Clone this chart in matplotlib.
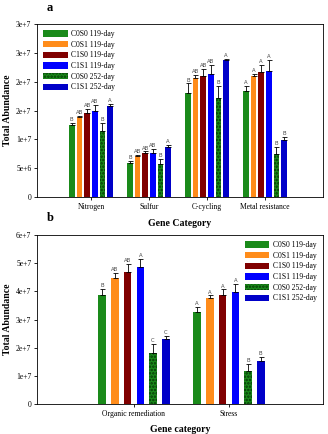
import numpy as np
import matplotlib
matplotlib.use("Agg")
import matplotlib.pyplot as plt

plt.rcParams['font.family'] = ['Liberation Serif', 'DejaVu Serif']
plt.rcParams['hatch.linewidth'] = 1.2

# series names and colours
series = ['C0S0 119-day', 'C0S1 119-day', 'C1S0 119-day', 'C1S1 119-day', 'C0S0 252-day', 'C1S1 252-day']
colors = ['#1a8a1a', '#ff8c1a', '#800000', '#0000ff', '#1a8a1a', '#0000c8']

# panel a data
cats_a = ['Nitrogen', 'Sulfur', 'C-cycling', 'Metal resistance']
vals_a = [
    [1.24e7, 5.95e6, 1.80e7, 1.83e7],
    [1.38e7, 7.1e6, 2.06e7, 2.10e7],
    [1.45e7, 7.6e6, 2.10e7, 2.16e7],
    [1.49e7, 7.7e6, 2.14e7, 2.19e7],
    [1.15e7, 5.7e6, 1.72e7, 7.4e6],
    [1.58e7, 8.6e6, 2.37e7, 9.8e6],
]
err_a = [
    [0.04e7, 0.3e6, 0.17e7, 0.10e7],
    [0.03e7, 0.2e6, 0.06e7, 0.04e7],
    [0.07e7, 0.3e6, 0.12e7, 0.13e7],
    [0.11e7, 0.6e6, 0.15e7, 0.19e7],
    [0.14e7, 0.9e6, 0.20e7, 1.3e6],
    [0.03e7, 0.4e6, 0.03e7, 0.6e6],
]
letters_a = [
    ['B', 'B', 'B', 'A'],
    ['AB', 'AB', 'AB', 'A'],
    ['AB', 'AB', 'AB', 'A'],
    ['AB', 'AB', 'AB', 'A'],
    ['B', 'B', 'B', 'B'],
    ['A', 'A', 'A', 'B'],
]
yticks_a = [0, 5e6, 1e7, 1.5e7, 2e7, 2.5e7, 3e7]
yticklabels_a = ['0', '5e+6', '1e+7', '2e+7', '2e+7', '3e+7', '3e+7']

# panel b data
cats_b = ['Organic remediation', 'Stress']
vals_b = [
    [3.88e7, 3.26e7],
    [4.47e7, 3.78e7],
    [4.70e7, 3.86e7],
    [4.88e7, 3.99e7],
    [1.83e7, 1.19e7],
    [2.30e7, 1.55e7],
]
err_b = [
    [0.21e7, 0.18e7],
    [0.18e7, 0.08e7],
    [0.26e7, 0.21e7],
    [0.27e7, 0.27e7],
    [0.30e7, 0.25e7],
    [0.12e7, 0.14e7],
]
letters_b = [
    ['B', 'A'],
    ['AB', 'A'],
    ['AB', 'A'],
    ['A', 'A'],
    ['C', 'B'],
    ['C', 'B'],
]
yticks_b = [0, 1e7, 2e7, 3e7, 4e7, 5e7, 6e7]
yticklabels_b = ['0', '1e+7', '2e+7', '3e+7', '4e+7', '5e+7', '6e+7']

W, H = 328, 434
fig = plt.figure(figsize=(W / 100, H / 100), dpi=100)


def panel(ax, cats, vals, errs, letters, pitch, width, yticks, yticklabels, ymax, lab_off):
    x = np.arange(len(cats))
    for i in range(len(series)):
        pos = x + (i - 2.5) * pitch
        hatched = (i == 4)
        ax.bar(pos, vals[i], width, color=colors[i],
               edgecolor='#063806' if hatched else colors[i],
               hatch='.....' if hatched else None, linewidth=0,
               label=series[i], zorder=2)
        ax.errorbar(pos, vals[i], yerr=[np.zeros(len(cats)), errs[i]], fmt='none',
                    ecolor='black', elinewidth=0.6, capsize=1.8, capthick=0.6, zorder=3)
        for xx, v, e, t in zip(pos, vals[i], errs[i], letters[i]):
            ax.text(xx, v + e + lab_off, t, ha='center', va='bottom', fontsize=3.8,
                    color='#444444', family='DejaVu Sans')
    ax.set_ylim(0, ymax)
    ax.set_yticks(yticks)
    ax.set_yticklabels(yticklabels, fontsize=5.5)
    ax.set_xticks(x)
    ax.set_xticklabels(cats, fontsize=5.5)
    ax.tick_params(axis='both', length=2, width=0.6, pad=2)
    for s in ax.spines.values():
        s.set_linewidth(0.6)
    ax.set_ylabel('Total Abundance', fontsize=7, fontweight='bold', labelpad=3)


ax1 = fig.add_axes([37 / W, 1 - 197 / H, 286 / W, 173 / H])
panel(ax1, cats_a, vals_a, err_a, letters_a, 0.132, 0.094, yticks_a, yticklabels_a, 3e7, 1.5e5)
ax1.set_xlim(-0.93, 4.0)
ax1.legend(loc='upper left', fontsize=5.5, frameon=False, handlelength=3.2, handleheight=0.9,
           labelspacing=0.35, borderaxespad=0.4, handletextpad=0.5)
ax1.set_xlabel('Gene Category', fontsize=7, fontweight='bold', labelpad=6)
fig.text(50 / W, 1 - 8 / H, 'a', fontsize=9, fontweight='bold', ha='center', va='center')

ax2 = fig.add_axes([37 / W, 1 - 404.3 / H, 286 / W, 169.3 / H])
panel(ax2, cats_b, vals_b, err_b, letters_b, 0.134, 0.079, yticks_b, yticklabels_b, 6e7, 3e5)
ax2.set_xlim(-1.02, 1.99)
ax2.legend(loc='upper right', fontsize=5.5, frameon=False, handlelength=3.2, handleheight=0.9,
           labelspacing=0.35, borderaxespad=0.4, handletextpad=0.5)
fig.text(50 / W, 1 - 218 / H, 'b', fontsize=9, fontweight='bold', ha='center', va='center')
fig.text(180 / W, 1 - 429 / H, 'Gene category', fontsize=7, fontweight='bold', ha='center', va='center')

fig.savefig('out.png', dpi=100)
